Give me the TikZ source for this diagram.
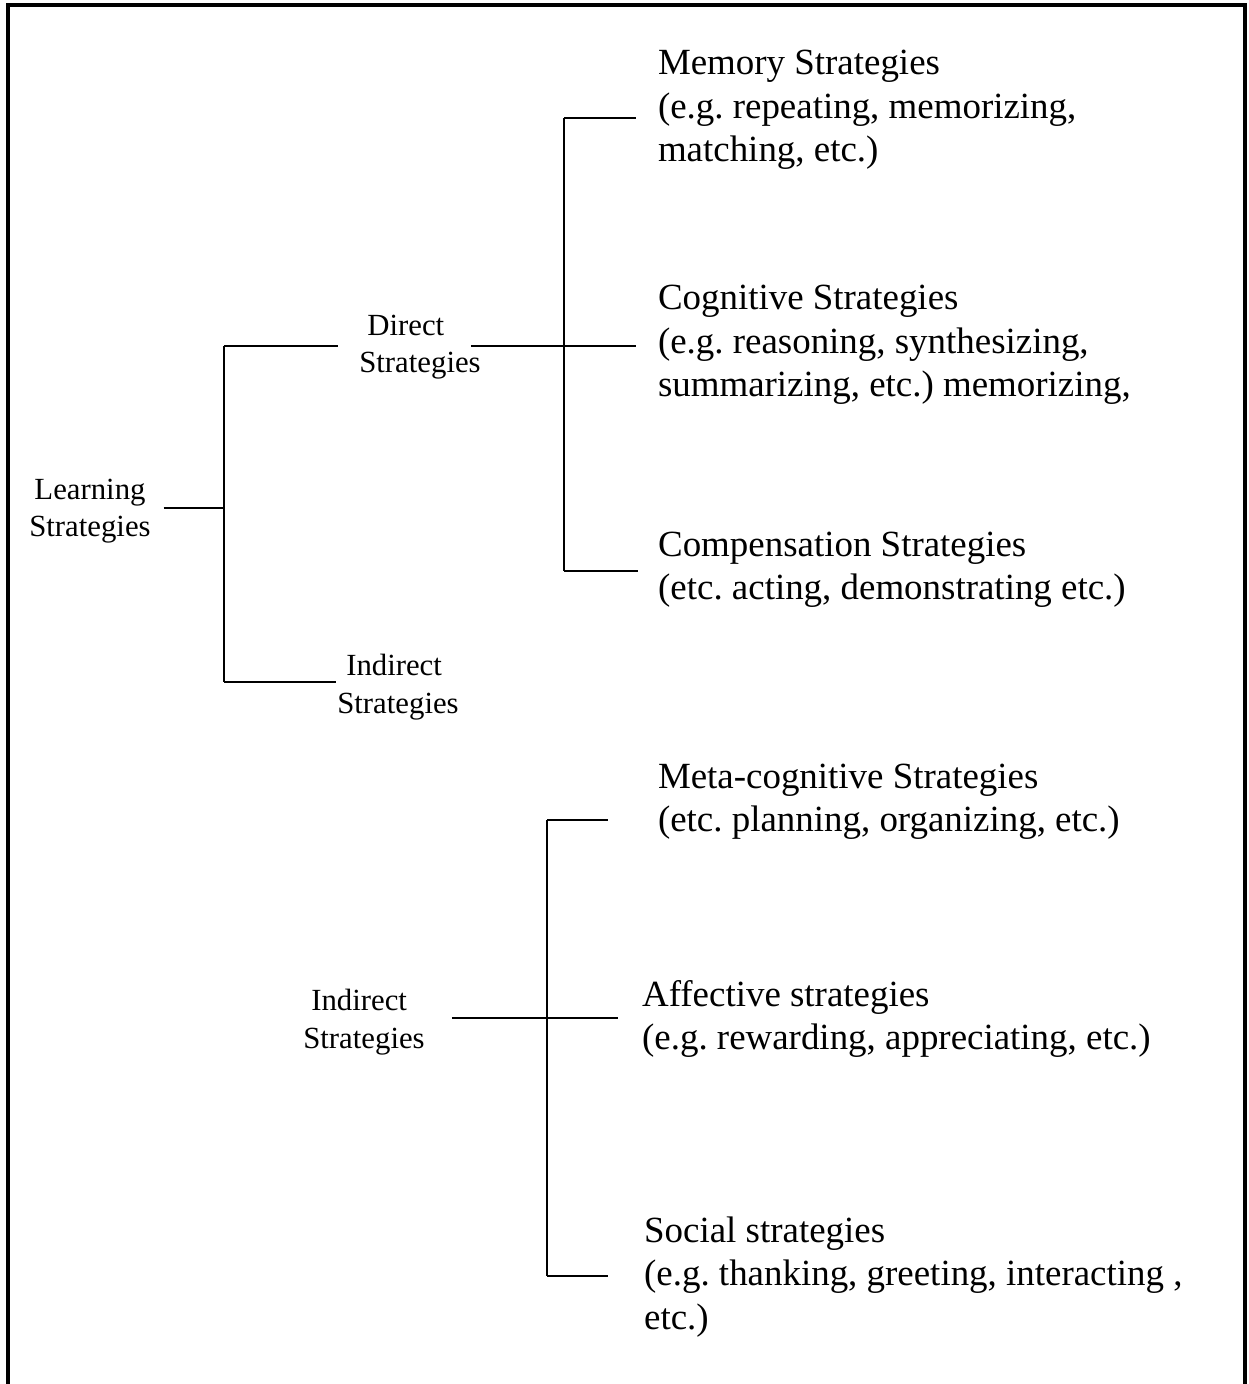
\documentclass[tikz,border=0pt]{standalone}
\usepackage{fontspec}
\setmainfont{Liberation Serif}
\usepackage{tikz}
\frenchspacing

\begin{document}
\begin{tikzpicture}[x=0.325pt, y=-0.325pt, line width=0.7pt,
          lbl/.style={font=\fontsize{10}{12.2}\selectfont, inner sep=0pt},
          br/.style={font=\fontsize{12}{14.1}\selectfont, align=left,
                     anchor=west, inner ysep=0pt}]
        \useasboundingbox (0,0) rectangle (1249,1384);
        % frame, open at the bottom
        \draw[line width=1pt] (8,1384) -- (8,5) -- (1245,5) -- (1245,1384);

        % junctions
        \coordinate (jr)  at (224,508);
        \coordinate (jd)  at (224,346);
        \coordinate (ji)  at (224,682);
        \coordinate (jm)  at (564,118);
        \coordinate (jc)  at (564,346);
        \coordinate (jk)  at (564,571);
        \coordinate (jmc) at (547,820);
        \coordinate (jaf) at (547,1018);
        \coordinate (jso) at (547,1276);

        \node[lbl, align=center, inner xsep=3.9pt] (learn) at (90,511) {Learning\\Strategies};
        \node[lbl, align=left] (direct) at (420,347) {\hspace{2.6pt}Direct\\Strategies};
        \node[lbl, align=left] (indir) at (398,687) {\hspace{2.9pt}Indirect\\Strategies};
        \node[lbl, align=left, inner xsep=8.5pt] (indir2) at (364,1022) {\hspace{2.6pt}Indirect\\Strategies};

        \node[br, inner xsep=6.8pt] (mem) at (636,110)
          {Memory Strategies\\(e.g. repeating, memorizing,\\matching, etc.)};
        \node[br, inner xsep=6.8pt] (cog) at (636,345)
          {Cognitive Strategies\\(e.g. reasoning, synthesizing,\\summarizing, etc.) memorizing,};
        \node[br, inner xsep=6.2pt] (comp) at (638,570)
          {Compensation Strategies\\(etc. acting, demonstrating etc.)};
        \node[br, inner xsep=15.9pt] (meta) at (608,802)
          {Meta-cognitive Strategies\\(etc. planning, organizing, etc.)};
        \node[br, inner xsep=7.5pt] (aff) at (618,1019)
          {Affective strategies\\(e.g. rewarding, appreciating, etc.)};
        \node[br, inner xsep=11.4pt] (soc) at (608,1277)
          {Social strategies\\(e.g. thanking, greeting, interacting ,\\etc.)};

        % first level
        \draw (learn.east |- jr) -- (jr);
        \draw (jd) -- (ji);
        \draw (jd) -- ([xshift=-6.5pt]direct.west |- jd);
        \draw (ji) -- (indir.west |- ji);
        % direct strategies
        \draw ([xshift=-3.5pt]direct.east |- jc) -- (jc);
        \draw (jm) -- (jk);
        \draw (jm) -- (mem.west |- jm);
        \draw (jc) -- (cog.west |- jc);
        \draw (jk) -- (comp.west |- jk);
        % indirect strategies
        \draw (jmc) -- (jso);
        \draw (indir2.east |- jaf) -- (aff.west |- jaf);
        \draw (jmc) -- (meta.west |- jmc);
        \draw (jso) -- (soc.west |- jso);
      \end{tikzpicture}
\end{document}
